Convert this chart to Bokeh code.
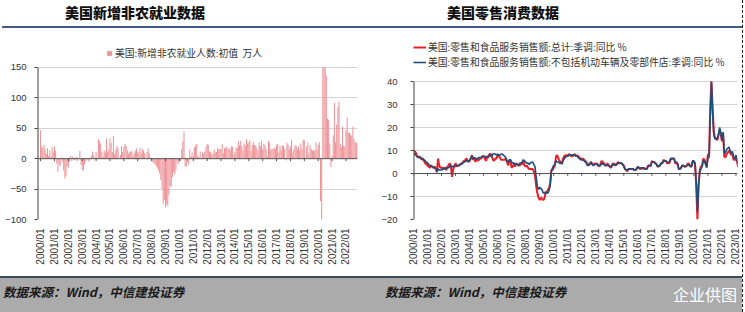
from math import pi
from bokeh.plotting import figure
from bokeh.models import (ColumnDataSource, FixedTicker, Span, Legend, LegendItem,
                          Div, Range1d)
from bokeh.layouts import row, column
from bokeh.embed import file_html
from bokeh.resources import INLINE

CJK = "Noto Sans CJK SC"
LAT = "Liberation Sans"

# ---------------- data ----------------
# Left: US nonfarm payrolls, monthly change, initial value (10k persons), from 2000/01
# (values beyond the visible axis range are shown at the axis limit, as in the picture)
nfp = [
    47, 20, 18, 22, 15, 8, 17, 5, 14, 3, 20, 10,            # 2000
    20, 13, -8, -22, -10, -12, 2, -5, -20, -33, -28, -12,   # 2001
    -15, -5, 5, -4, 4, -2, -3, 3, -4, -1, 13, -10,          # 2002
    -18, -20, -10, -5, 1, -3, -5, -1, 5, 12, 6, 1,          # 2003
    11, 2, 32, 29, 25, 11, 3, 14, 10, 33, 11, 16,           # 2004
    33, 26, 11, 37, 8, 15, 21, 17, 0, 6, 21, 11,            # 2005
    19, 24, 21, 14, 8, 12, 11, 13, 5, 9, 13, 17,            # 2006
    11, 10, 18, 9, 16, 13, 9, 0, 11, 17, 9, 2,              # 2007
    -2, -6, -8, -10, -12, -15, -20, -25, -35, -50, -75, -68,  # 2008
    -80, -75, -78, -60, -45, -47, -30, -22, -26, -19, -5, -10,  # 2009
    -2, -4, 16, 29, 45, -13, -13, -5, -9, 15, 4, 10,        # 2010
    4, 19, 22, 24, 5, 2, 12, 0, 10, 8, 12, 20,              # 2011
    24, 23, 12, 12, 7, 8, 16, 10, 11, 17, 15, 16,           # 2012
    16, 24, 9, 17, 18, 20, 16, 17, 15, 20, 20, 7,           # 2013
    11, 18, 19, 29, 22, 29, 21, 14, 25, 21, 32, 25,         # 2014
    26, 30, 13, 22, 28, 22, 22, 17, 14, 27, 21, 29,         # 2015
    15, 24, 22, 16, 4, 29, 26, 15, 16, 16, 18, 16,          # 2016
    23, 24, 10, 21, 14, 22, 21, 16, -3, 26, 23, 15,         # 2017
    20, 31, 10, 16, 22, 21, 16, 20, 13, 25, 16, 31,         # 2018
    30, 2, 20, 26, 8, 22, 16, 13, 14, 13, 27, 15,           # 2019
    23, 27, -70, -100, 150, 150, 150, 137, 66, 64, 25, -14, # 2020
    5, 38, 92, 27, 56, 85, 94, 24, 19, 53, 21, 20,          # 2021
    47, 68, 43, 43, 39, 37, 53, 32, 26, 26, 26,             # 2022
]

# Right: retail & food services sales YoY % (total) and ex motor vehicles & parts
retail_total = [
    9.5, 9.8, 9.0, 7.5, 7.0, 7.5, 6.8, 6.0, 6.5, 5.5, 4.5, 4.0,
    3.5, 3.0, 2.5, 3.5, 3.0, 2.5, 3.0, 2.5, 0.5, 6.5, 3.5, 2.5,
    2.5, 2.5, 2.0, 2.5, 1.5, 3.0, 3.5, 4.5, 3.0, -1.5, 2.0, 3.0,
    4.5, 3.0, 3.5, 3.5, 4.0, 4.5, 4.5, 5.5, 5.5, 6.5, 6.0, 5.0,
    5.5, 6.5, 8.0, 6.0, 6.5, 5.0, 6.5, 5.5, 6.0, 6.5, 6.5, 7.5,
    7.5, 6.5, 5.5, 7.0, 7.0, 8.5, 8.5, 7.5, 6.0, 5.5, 6.5, 6.5,
    8.0, 7.5, 7.0, 6.0, 6.0, 6.0, 6.0, 6.5, 5.0, 3.5, 5.5, 5.5,
    2.5, 3.0, 4.0, 3.0, 4.5, 4.0, 3.5, 3.5, 4.5, 4.0, 5.5, 3.5,
    3.0, 3.5, 2.5, 2.0, 2.0, 2.0, 2.0, 1.0, -1.0, -5.5, -8.5, -10.5,
    -11.5, -10.5, -11.0, -11.5, -11.0, -8.5, -8.5, -7.0, -6.5, -4.0, 1.5, 1.5,
    2.5, 3.5, 7.5, 8.0, 6.5, 5.5, 5.0, 4.0, 6.5, 7.5, 8.0, 8.0,
    7.5, 8.5, 8.0, 7.5, 7.5, 8.0, 8.5, 7.5, 8.0, 7.5, 7.0, 6.5,
    6.0, 6.5, 6.0, 5.5, 5.0, 3.5, 4.0, 4.5, 5.0, 4.0, 3.5, 4.5,
    4.0, 4.5, 3.5, 3.0, 4.0, 5.5, 5.0, 4.5, 3.5, 3.5, 4.5, 3.5,
    3.0, 2.5, 3.5, 4.5, 4.0, 3.5, 4.0, 5.0, 4.5, 4.5, 4.5, 4.0,
    3.5, 2.0, 1.5, 1.0, 2.0, 2.0, 2.0, 2.0, 2.0, 1.5, 1.5, 2.0,
    3.0, 2.5, 2.0, 2.5, 2.0, 2.5, 2.0, 2.0, 2.5, 3.5, 3.5, 3.0,
    5.5, 5.0, 5.0, 4.5, 4.0, 3.0, 3.0, 3.5, 4.5, 4.5, 6.0, 5.5,
    5.5, 4.5, 4.5, 4.5, 6.0, 6.5, 6.5, 6.5, 4.5, 4.5, 4.0, 2.0,
    2.0, 2.5, 3.5, 3.5, 3.0, 3.0, 3.5, 4.5, 4.0, 3.0, 3.5, 5.5,
    5.0, 4.0, -5.5, -20.0, -5.5, 1.5, 3.0, 3.5, 6.5, 6.0, 4.5, 3.0,
    8.5, 7.5, 29.0, 40.0, 29.0, 18.5, 15.5, 15.5, 14.5, 16.5, 19.0, 17.0,
    14.0, 17.5, 7.5, 7.0, 8.5, 9.0, 10.0, 9.0, 8.0, 8.5, 6.0, 6.0,
    6.5, 5.0, 2.5,
]
retail_ex_auto = [
    8.5, 8.5, 8.0, 7.5, 7.0, 7.0, 7.0, 6.5, 6.5, 6.0, 5.5, 5.0,
    4.5, 4.0, 3.5, 3.5, 3.0, 2.5, 2.5, 2.0, 1.0, 2.0, 1.5, 1.5,
    1.5, 2.0, 2.0, 2.5, 2.0, 2.5, 2.5, 3.0, 3.5, 3.0, 3.0, 3.5,
    3.5, 3.5, 3.5, 3.5, 4.0, 4.0, 4.5, 5.0, 5.0, 5.5, 5.5, 5.5,
    5.5, 6.5, 7.5, 6.5, 7.0, 6.5, 6.5, 6.5, 7.0, 7.0, 7.0, 7.5,
    7.5, 7.5, 7.0, 7.5, 7.5, 8.0, 7.5, 7.5, 8.5, 8.5, 8.5, 8.0,
    8.5, 8.0, 8.0, 8.5, 8.5, 8.0, 7.5, 7.0, 5.5, 5.0, 6.0, 6.0,
    5.0, 4.5, 4.5, 4.0, 4.0, 4.0, 3.5, 4.5, 4.5, 5.0, 6.0, 5.5,
    5.0, 4.5, 4.5, 4.0, 4.5, 5.0, 5.0, 4.0, 3.0, -1.5, -5.5, -7.0,
    -6.0, -6.5, -7.0, -8.5, -8.5, -8.0, -8.5, -8.5, -7.5, -5.0, 1.0, 2.5,
    3.5, 4.0, 5.5, 5.0, 5.0, 4.5, 4.5, 4.5, 5.5, 6.5, 7.0, 7.5,
    7.5, 8.0, 8.0, 8.0, 8.0, 8.0, 8.0, 7.5, 7.5, 7.0, 6.5, 6.0,
    6.0, 6.0, 5.5, 5.0, 4.5, 3.5, 3.5, 4.0, 5.0, 4.0, 3.5, 4.0,
    4.0, 4.0, 3.5, 3.5, 3.5, 4.5, 4.0, 4.0, 3.5, 3.5, 3.5, 3.5,
    3.0, 3.0, 4.0, 4.0, 3.5, 4.0, 4.0, 4.5, 4.5, 4.5, 4.5, 4.0,
    3.0, 2.0, 1.5, 1.5, 2.0, 2.0, 2.0, 2.0, 2.0, 1.5, 1.5, 2.0,
    3.0, 2.5, 2.0, 2.5, 2.5, 2.5, 2.0, 2.0, 2.0, 3.5, 3.5, 3.5,
    5.0, 5.0, 5.0, 4.5, 4.0, 3.0, 3.5, 3.5, 4.5, 4.5, 5.5, 5.5,
    5.5, 5.0, 5.0, 5.0, 6.5, 6.5, 6.5, 6.5, 5.0, 5.0, 4.5, 2.0,
    2.0, 2.5, 3.5, 3.5, 3.0, 3.0, 3.5, 4.0, 3.5, 3.0, 3.0, 5.5,
    5.5, 4.5, -3.5, -16.5, -5.0, 0.5, 2.0, 3.0, 5.5, 5.5, 4.0, 2.5,
    7.0, 7.0, 24.0, 40.0, 27.0, 17.0, 15.0, 15.0, 15.0, 17.0, 20.0, 18.0,
    14.5, 18.0, 9.0, 9.0, 10.5, 11.0, 11.5, 10.0, 9.0, 9.5, 7.0, 6.5,
    8.0, 6.0, 3.0,
]

left_years = list(range(2000, 2023))
right_years = list(range(2000, 2024))
left_ticks_y = [-100, -50, 0, 50, 100, 150]
right_ticks_y = [-20, -10, 0, 10, 20, 30, 40]

title_left = "美国新增非农就业数据"
title_right = "美国零售消费数据"
legend_left = "美国:新增非农就业人数:初值  万人"
legend_red = "美国:零售和食品服务销售额:总计:季调:同比 %"
legend_blue = "美国:零售和食品服务销售额:不包括机动车辆及零部件店:季调:同比 %"
source_text = "数据来源：Wind，中信建投证券"
watermark = "企业供图"

# ---------------- helpers ----------------
def month_x(n):
    return [2000 + i / 12 for i in range(n)]

def style_axes(p, yticks, xticks, ystandoff):
    p.outline_line_color = None
    p.xgrid.visible = False
    p.ygrid.ticker = FixedTicker(ticks=[t for t in yticks if t != 0])
    p.ygrid.grid_line_color = "#D4D4D4"
    p.ygrid.grid_line_width = 1
    p.yaxis.ticker = FixedTicker(ticks=yticks)
    p.yaxis.axis_line_color = None
    p.yaxis.major_tick_line_color = "#404040"
    p.yaxis.major_tick_out = 3
    p.yaxis.major_tick_in = 0
    p.yaxis.minor_tick_line_color = None
    p.yaxis.major_label_standoff = ystandoff
    p.yaxis.major_label_text_font = LAT
    p.yaxis.major_label_text_font_size = "9.5px"
    p.yaxis.major_label_text_color = "#333333"
    p.xaxis.ticker = FixedTicker(ticks=xticks)
    p.xaxis.major_label_overrides = {y: f"{y}/01" for y in xticks}
    p.xaxis.major_label_orientation = pi / 2
    p.xaxis.axis_line_color = None
    p.xaxis.major_tick_line_color = None
    p.xaxis.minor_tick_line_color = None
    p.xaxis.major_label_standoff = 3
    p.xaxis.major_label_text_font = LAT
    p.xaxis.major_label_text_font_size = "10px"
    p.xaxis.major_label_text_color = "#333333"
    p.add_layout(Span(location=0, dimension="width", line_color="#505050", line_width=1))
    # y axis line spanning only the labelled range
    x0 = p.x_range.start
    p.segment(x0=[x0], x1=[x0], y0=[min(yticks)], y1=[max(yticks)],
              line_color="#404040", line_width=2)

legend_common = dict(border_line_color=None, background_fill_alpha=0, padding=0, margin=0,
                     label_text_font=CJK, label_text_font_size="9.8px",
                     label_text_color="#333333", label_height=10)

# ---------------- left chart ----------------
p1 = figure(width=370, height=248, x_range=Range1d(1999.78, 2022.83),
            y_range=Range1d(-100, 200.9),
            output_backend="svg", toolbar_location=None,
            min_border_left=37, min_border_right=13, min_border_top=8, min_border_bottom=57)
src1 = ColumnDataSource(dict(x=month_x(len(nfp)), top=nfp))
r1 = p1.vbar(x="x", top="top", bottom=0, width=0.9 / 12, source=src1,
             fill_color="#EE9499", line_color=None)
style_axes(p1, left_ticks_y, left_years, 8)
tick1 = ColumnDataSource(dict(x=left_years, y0=[0] * len(left_years), y1=[-4] * len(left_years)))
p1.segment(x0="x", x1="x", y0="y0", y1="y1", source=tick1, line_color="#505050", line_width=1)
leg1 = Legend(items=[LegendItem(label=legend_left, renderers=[r1])], location=(69, 159),
              orientation="horizontal", glyph_width=6, glyph_height=6,
              label_standoff=3, **legend_common)
p1.add_layout(leg1)

# ---------------- right chart ----------------
p2 = figure(width=372, height=248, x_range=Range1d(2000, 2023.11), y_range=Range1d(-20, 59.6),
            output_backend="svg", toolbar_location=None,
            min_border_left=43, min_border_right=5, min_border_top=8, min_border_bottom=57)
src2 = ColumnDataSource(dict(x=month_x(len(retail_total)), red=retail_total, blue=retail_ex_auto))
r_red = p2.line(x="x", y="red", source=src2, line_color="#E8202A", line_width=2)
r_blue = p2.line(x="x", y="blue", source=src2, line_color="#1F4E79", line_width=1.6)
style_axes(p2, right_ticks_y, right_years, 13)
tick2 = ColumnDataSource(dict(x=right_years, y0=[0] * len(right_years), y1=[-1] * len(right_years)))
p2.segment(x0="x", x1="x", y0="y0", y1="y1", source=tick2, line_color="#505050", line_width=1)
leg2 = Legend(items=[LegendItem(label=legend_red, renderers=[r_red]),
                     LegendItem(label=legend_blue, renderers=[r_blue])],
              location=(0, 150), orientation="vertical", spacing=1,
              glyph_width=13, glyph_height=8, label_standoff=2, **legend_common)
p2.add_layout(leg2)

# ---------------- header / footer ----------------
tstyle = ("position:absolute;top:3px;font-family:'Noto Sans CJK SC';font-weight:900;"
          "font-size:14px;line-height:18px;color:#111;white-space:nowrap;")
header = Div(width=742, height=28, margin=0, text=(
    '<div style="position:relative;width:742px;height:28px;">'
    f'<span style="{tstyle}left:65px;">{title_left}</span>'
    f'<span style="{tstyle}left:447px;">{title_right}</span>'
    '<div style="position:absolute;left:2px;top:26px;width:740px;height:2px;background:#44598A;"></div>'
    '</div>'))

fstyle = ("position:absolute;top:8px;font-family:'Noto Sans CJK SC';font-style:italic;"
          "font-weight:bold;font-size:12.5px;line-height:16px;color:#1a1a1a;white-space:nowrap;")
footer = Div(width=742, height=36, margin=0, text=(
    '<div style="position:relative;width:742px;height:36px;background:#ABABAB;">'
    '<div style="position:absolute;left:0;top:0;width:742px;height:2px;background:#3C4B58;"></div>'
    f'<span style="{fstyle}left:3px;">{source_text}</span>'
    f'<span style="{fstyle}left:385px;">{source_text}</span>'
    '<span style="position:absolute;left:673px;top:8px;font-family:\'Noto Sans CJK SC\';'
    f'font-size:16px;line-height:20px;color:#ffffff;white-space:nowrap;">{watermark}</span>'
    '</div>'))

dash = Div(width=3, height=312, margin=0, text=(
    '<div style="position:relative;width:3px;height:312px;'
    'border-left:1.5px dashed #111;box-sizing:border-box;"></div>'))

charts = row(p1, p2, spacing=0)
main = column(header, charts, footer, spacing=0)
layout = row(main, dash, spacing=0)

open("out.html", "w").write(file_html(layout, INLINE))
